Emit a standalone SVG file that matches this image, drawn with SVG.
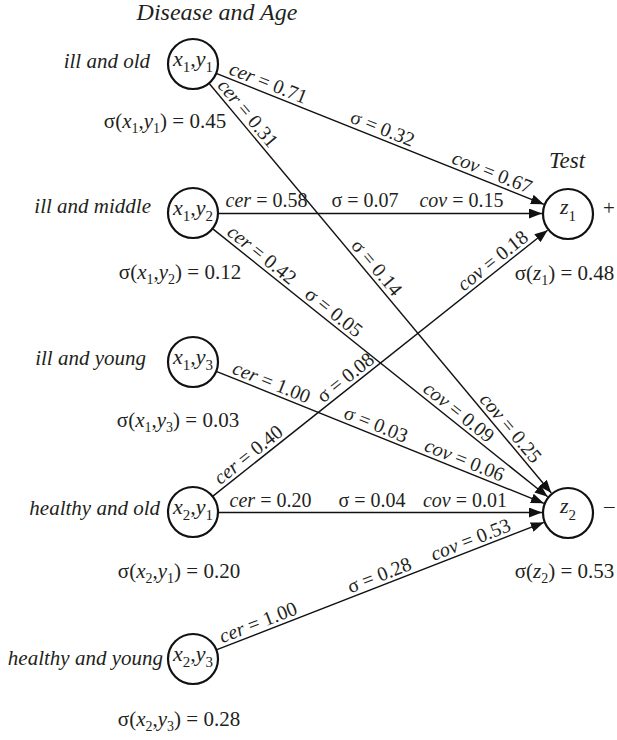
<svg xmlns="http://www.w3.org/2000/svg" width="617" height="740" viewBox="0 0 617 740">
<style>
.t{font-family:"Liberation Serif","Times New Roman",serif;font-size:20px;fill:#231f20}
.s{font-size:21px}
.i{font-style:italic}
.m{text-anchor:middle}
.e{text-anchor:end}
.n{fill:none;stroke:#111;stroke-width:2.2}
.c{stroke:#111;stroke-width:1.4;fill:none}
</style>
<defs>
<marker id="ah" markerUnits="userSpaceOnUse" markerWidth="14" markerHeight="10" refX="13" refY="5" orient="auto">
<path d="M0,0 L13,5 L0,10 z" fill="#111"/>
</marker>
</defs>
<rect width="617" height="740" fill="#fff"/>

<text class="t i m" x="217" y="20" style="font-size:24px">Disease and Age</text>
<text class="t i m" x="567" y="168" style="font-size:23px">Test</text>

<g id="connectors">
<g id="e1">
<line class="c" x1="216.2" y1="73.3" x2="543.9" y2="204.3" marker-end="url(#ah)"/>
<g transform="translate(193,64) rotate(21.80)">
<text class="t m" x="77" y="-4"><tspan class="i">cer</tspan> = 0.71</text>
<text class="t m" x="200" y="-4">σ = 0.32</text>
<text class="t m" x="318" y="-4"><tspan class="i">cov</tspan> = 0.67</text>
</g>
</g>
<g id="e2">
<line class="c" x1="209.0" y1="83.2" x2="551.3" y2="493.0" marker-end="url(#ah)"/>
<g transform="translate(193,64) rotate(50.13)">
<text class="t m" x="73" y="-4"><tspan class="i">cer</tspan> = 0.31</text>
<text class="t m" x="274" y="-4">σ = 0.14</text>
<text class="t m" x="483" y="-4"><tspan class="i">cov</tspan> = 0.25</text>
</g>
</g>
<g id="e3">
<line class="c" x1="218" y1="213.5" x2="542" y2="213.5" marker-end="url(#ah)"/>
<text class="t m" x="266.5" y="207"><tspan class="i">cer</tspan> = 0.58</text>
<text class="t m" x="365" y="207">σ = 0.07</text>
<text class="t m" x="461.5" y="207"><tspan class="i">cov</tspan> = 0.15</text>
</g>
<g id="e4">
<line class="c" x1="212.5" y1="228.6" x2="547.7" y2="496.75" marker-end="url(#ah)"/>
<g transform="translate(193,213) rotate(38.66)">
<text class="t m" x="80" y="-4"><tspan class="i">cer</tspan> = 0.42</text>
<text class="t m" x="172" y="-4">σ = 0.05</text>
<text class="t m" x="332" y="-4"><tspan class="i">cov</tspan> = 0.09</text>
</g>
</g>
<g id="e5">
<line class="c" x1="216.2" y1="371.3" x2="543.9" y2="503.3" marker-end="url(#ah)"/>
<g transform="translate(193,362) rotate(21.93)">
<text class="t m" x="80.5" y="-4"><tspan class="i">cer</tspan> = 1.00</text>
<text class="t m" x="193" y="-4">σ = 0.03</text>
<text class="t m" x="288.5" y="-4"><tspan class="i">cov</tspan> = 0.06</text>
</g>
</g>
<g id="e6">
<line class="c" x1="212.6" y1="496.4" x2="547.6" y2="230.2" marker-end="url(#ah)"/>
<g transform="translate(193,512) rotate(-38.47)">
<text class="t m" x="79" y="-4"><tspan class="i">cer</tspan> = 0.40</text>
<text class="t m" x="203" y="-4">σ = 0.08</text>
<text class="t m" x="391" y="-4"><tspan class="i">cov</tspan> = 0.18</text>
</g>
</g>
<g id="e7">
<line class="c" x1="218" y1="512.5" x2="542" y2="512.5" marker-end="url(#ah)"/>
<text class="t m" x="270.5" y="507"><tspan class="i">cer</tspan> = 0.20</text>
<text class="t m" x="372" y="507">σ = 0.04</text>
<text class="t m" x="465" y="507"><tspan class="i">cov</tspan> = 0.01</text>
</g>
<g id="e8">
<line class="c" x1="216.3" y1="649.9" x2="543.8" y2="522.4" marker-end="url(#ah)"/>
<g transform="translate(193,659) rotate(-21.27)">
<text class="t m" x="74" y="-4"><tspan class="i">cer</tspan> = 1.00</text>
<text class="t m" x="204" y="-4">σ = 0.28</text>
<text class="t m" x="302" y="-4"><tspan class="i">cov</tspan> = 0.53</text>
</g>
</g>
</g>

<g id="n-x1y1">
<circle class="n" cx="193" cy="64" r="25"/>
<text class="t m" x="193" y="66" style="font-size:22px"><tspan class="i">x</tspan><tspan dy="6" style="font-size:15px">1</tspan><tspan dy="-6">,</tspan><tspan class="i">y</tspan><tspan dy="6" style="font-size:15px">1</tspan></text>
<text class="t s e i" x="150" y="68">ill and old</text>
<text class="t s m" x="165" y="128">σ(<tspan class="i">x</tspan><tspan dy="5" style="font-size:14px">1</tspan><tspan dy="-5">,</tspan><tspan class="i">y</tspan><tspan dy="5" style="font-size:14px">1</tspan><tspan dy="-5">) = 0.45</tspan></text>
</g>
<g id="n-x1y2">
<circle class="n" cx="193" cy="213" r="25"/>
<text class="t m" x="193" y="215" style="font-size:22px"><tspan class="i">x</tspan><tspan dy="6" style="font-size:15px">1</tspan><tspan dy="-6">,</tspan><tspan class="i">y</tspan><tspan dy="6" style="font-size:15px">2</tspan></text>
<text class="t s e i" x="151" y="213">ill and middle</text>
<text class="t s m" x="180" y="279">σ(<tspan class="i">x</tspan><tspan dy="5" style="font-size:14px">1</tspan><tspan dy="-5">,</tspan><tspan class="i">y</tspan><tspan dy="5" style="font-size:14px">2</tspan><tspan dy="-5">) = 0.12</tspan></text>
</g>
<g id="n-x1y3">
<circle class="n" cx="193" cy="362" r="25"/>
<text class="t m" x="193" y="364" style="font-size:22px"><tspan class="i">x</tspan><tspan dy="6" style="font-size:15px">1</tspan><tspan dy="-6">,</tspan><tspan class="i">y</tspan><tspan dy="6" style="font-size:15px">3</tspan></text>
<text class="t s e i" x="146" y="365">ill and young</text>
<text class="t s m" x="178" y="427">σ(<tspan class="i">x</tspan><tspan dy="5" style="font-size:14px">1</tspan><tspan dy="-5">,</tspan><tspan class="i">y</tspan><tspan dy="5" style="font-size:14px">3</tspan><tspan dy="-5">) = 0.03</tspan></text>
</g>
<g id="n-x2y1">
<circle class="n" cx="193" cy="512" r="25"/>
<text class="t m" x="193" y="514" style="font-size:22px"><tspan class="i">x</tspan><tspan dy="6" style="font-size:15px">2</tspan><tspan dy="-6">,</tspan><tspan class="i">y</tspan><tspan dy="6" style="font-size:15px">1</tspan></text>
<text class="t s e i" x="160" y="515">healthy and old</text>
<text class="t s m" x="179" y="578">σ(<tspan class="i">x</tspan><tspan dy="5" style="font-size:14px">2</tspan><tspan dy="-5">,</tspan><tspan class="i">y</tspan><tspan dy="5" style="font-size:14px">1</tspan><tspan dy="-5">) = 0.20</tspan></text>
</g>
<g id="n-x2y3">
<circle class="n" cx="193" cy="659" r="25"/>
<text class="t m" x="193" y="661" style="font-size:22px"><tspan class="i">x</tspan><tspan dy="6" style="font-size:15px">2</tspan><tspan dy="-6">,</tspan><tspan class="i">y</tspan><tspan dy="6" style="font-size:15px">3</tspan></text>
<text class="t s e i" x="163" y="665">healthy and young</text>
<text class="t s m" x="179" y="726">σ(<tspan class="i">x</tspan><tspan dy="5" style="font-size:14px">2</tspan><tspan dy="-5">,</tspan><tspan class="i">y</tspan><tspan dy="5" style="font-size:14px">3</tspan><tspan dy="-5">) = 0.28</tspan></text>
</g>
<g id="n-z1">
<circle class="n" cx="568" cy="214" r="25"/>
<text class="t m" x="568" y="214" style="font-size:22px"><tspan class="i">z</tspan><tspan dy="7" style="font-size:15px">1</tspan></text>
<text class="t s" x="603" y="215">+</text>
<text class="t s m" x="564.5" y="280">σ(<tspan class="i">z</tspan><tspan dy="5" style="font-size:14px">1</tspan><tspan dy="-5">) = 0.48</tspan></text>
</g>
<g id="n-z2">
<circle class="n" cx="568" cy="513" r="25"/>
<text class="t m" x="568" y="513" style="font-size:22px"><tspan class="i">z</tspan><tspan dy="7" style="font-size:15px">2</tspan></text>
<text class="t s" x="604" y="513">–</text>
<text class="t s m" x="564.5" y="578">σ(<tspan class="i">z</tspan><tspan dy="5" style="font-size:14px">2</tspan><tspan dy="-5">) = 0.53</tspan></text>
</g>
</svg>
